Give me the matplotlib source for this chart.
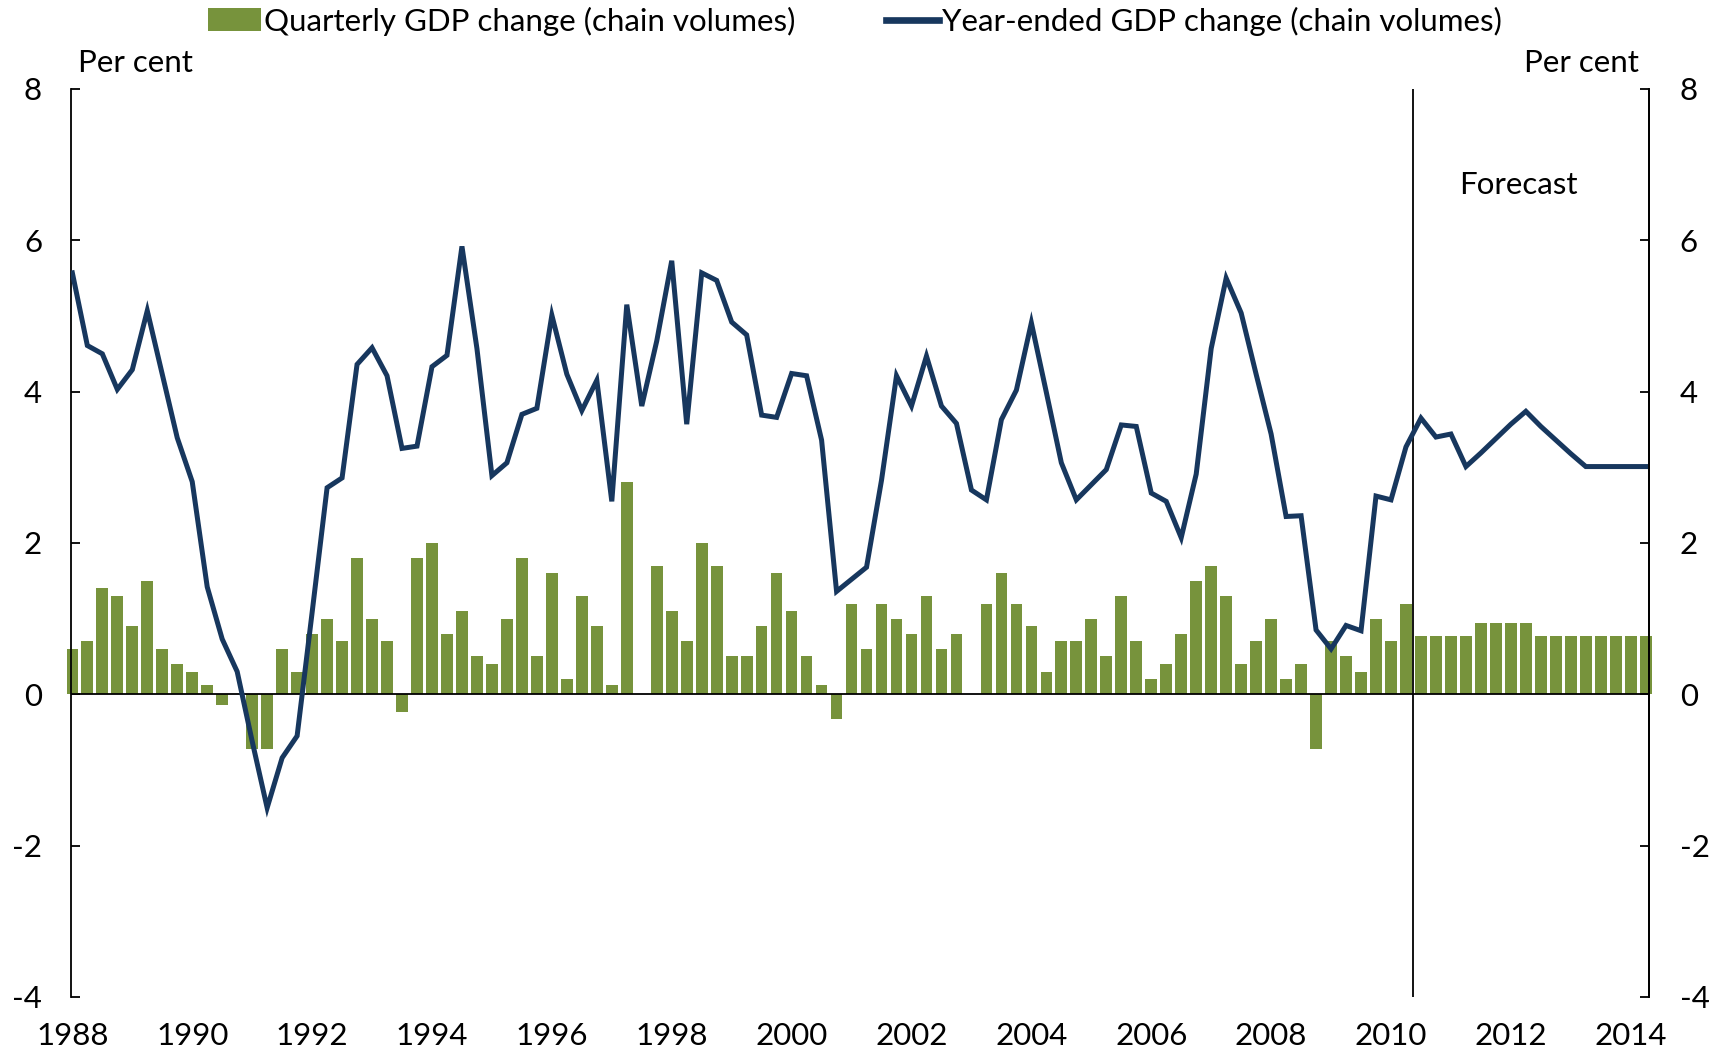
import matplotlib
matplotlib.use("Agg")
import matplotlib.pyplot as plt
from matplotlib.patches import Patch
from matplotlib.lines import Line2D
import numpy as np

plt.rcParams['font.family'] = ['Lato', 'DejaVu Sans']

# ---- data (quarterly, 1988 onwards; last 16 quarters are forecasts) ----
quarterly_change = [
    0.6, 0.7, 1.4, 1.3, 0.9, 1.5, 0.6, 0.4, 0.3, 0.12,
    -0.14, 0.0, -0.72, -0.72, 0.6, 0.3, 0.8, 1.0, 0.7, 1.8,
    1.0, 0.7, -0.23, 1.8, 2.0, 0.8, 1.1, 0.5, 0.4, 1.0,
    1.8, 0.5, 1.6, 0.2, 1.3, 0.9, 0.12, 2.8, 0.0, 1.7,
    1.1, 0.7, 2.0, 1.7, 0.5, 0.5, 0.9, 1.6, 1.1, 0.5,
    0.12, -0.33, 1.2, 0.6, 1.2, 1.0, 0.8, 1.3, 0.6, 0.8,
    0.0, 1.2, 1.6, 1.2, 0.9, 0.3, 0.7, 0.7, 1.0, 0.5,
    1.3, 0.7, 0.2, 0.4, 0.8, 1.5, 1.7, 1.3, 0.4, 0.7,
    1.0, 0.2, 0.4, -0.72, 0.7, 0.5, 0.3, 1.0, 0.7, 1.2,
    0.77, 0.77, 0.77, 0.77, 0.94, 0.94, 0.94, 0.94,
    0.77, 0.77, 0.77, 0.77, 0.77, 0.77, 0.77, 0.77,
]
year_ended_change = [
    5.57, 4.61, 4.50, 4.03, 4.29, 5.07, 4.23, 3.39, 2.81, 1.42,
    0.73, 0.30, -0.62, -1.50, -0.84, -0.55, 1.08, 2.73, 2.86, 4.36,
    4.58, 4.21, 3.25, 3.28, 4.33, 4.48, 5.92, 4.57, 2.89, 3.06,
    3.70, 3.78, 5.01, 4.23, 3.75, 4.15, 2.55, 5.15, 3.81, 4.67,
    5.73, 3.57, 5.57, 5.47, 4.92, 4.75, 3.69, 3.66, 4.24, 4.21,
    3.36, 1.36, 1.52, 1.68, 2.83, 4.21, 3.81, 4.47, 3.81, 3.58,
    2.70, 2.57, 3.63, 4.02, 4.91, 3.99, 3.06, 2.57, 2.77, 2.97,
    3.56, 3.54, 2.66, 2.55, 2.07, 2.91, 4.57, 5.50, 5.04, 4.23,
    3.44, 2.35, 2.36, 0.85, 0.60, 0.91, 0.84, 2.62, 2.57, 3.27,
    3.65, 3.40, 3.44, 3.01, 3.19, 3.38, 3.57, 3.74,
    3.54, 3.36, 3.18, 3.01, 3.01, 3.01, 3.01, 3.01,
]
year_labels = ['1988', '1990', '1992', '1994', '1996', '1998', '2000',
               '2002', '2004', '2006', '2008', '2010', '2012', '2014']
y_ticks = [-4, -2, 0, 2, 4, 6, 8]
forecast_start = 89.5   # boundary between last actual and first forecast quarter

bar_label = 'Quarterly GDP change (chain volumes)'
line_label = 'Year-ended GDP change (chain volumes)'

bar_color = '#77933C'
line_color = '#17375E'
FS = 22.5

x = np.arange(len(quarterly_change))

fig = plt.figure(figsize=(17.25, 10.57), dpi=100)
ax = fig.add_axes([0.0409, 0.0568, 0.9148, 0.859])

ax.bar(x, quarterly_change, width=0.78, color=bar_color, zorder=2, clip_on=False)
ax.axhline(0, color='black', lw=1.3, zorder=3)
ax.axvline(forecast_start, color='black', lw=1.3, zorder=3)
ax.plot(x, year_ended_change, color=line_color, lw=3.6, zorder=4,
        solid_joinstyle='miter')

ax.set_xlim(-0.12, 105.19)
ax.set_ylim(-4, 8)
ax.set_yticks(y_ticks)
ax.set_yticklabels([str(v) for v in y_ticks])
ax.set_xticks(x[::8][:len(year_labels)])
ax.set_xticklabels(year_labels)

for s in ['top', 'bottom']:
    ax.spines[s].set_visible(False)
for s in ['left', 'right']:
    ax.spines[s].set_linewidth(1.3)
    ax.spines[s].set_color('black')

ax.tick_params(axis='x', length=0, pad=18, labelsize=FS)
ax.tick_params(axis='y', direction='in', length=6.5, width=1.3, pad=20.5,
               labelsize=FS, left=True, right=False)

ax2 = ax.twinx()
ax2.set_ylim(-4, 8)
ax2.set_yticks(y_ticks)
ax2.set_yticklabels([str(v) for v in y_ticks])
ax2.tick_params(axis='y', direction='in', length=6.5, width=1.3, pad=22.5,
                labelsize=FS)
for s in ['top', 'bottom', 'left']:
    ax2.spines[s].set_visible(False)
ax2.spines['right'].set_linewidth(1.3)

ax.text(96.5, 6.73, 'Forecast', ha='center', va='center', fontsize=FS)
fig.text(78 / 1725, 1 - 63 / 1057, 'Per cent', ha='left', va='center', fontsize=FS)
fig.text(1639 / 1725, 1 - 63 / 1057, 'Per cent', ha='right', va='center', fontsize=FS)

handles = [Patch(facecolor=bar_color, edgecolor='none', label=bar_label),
           Line2D([], [], color=line_color, lw=4.8, label=line_label)]
fig.legend(handles=handles, loc='center', bbox_to_anchor=(0.4957, 1 - 21 / 1057),
           ncol=2, frameon=False, fontsize=FS, handlelength=1.7,
           handleheight=0.72, handletextpad=0.1, columnspacing=2.9,
           borderpad=0, borderaxespad=0)

fig.savefig('out.png', dpi=100)
